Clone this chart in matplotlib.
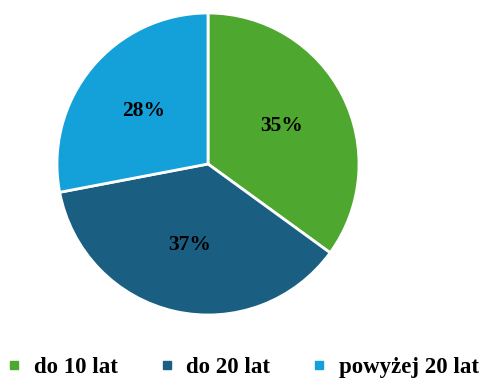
import matplotlib
matplotlib.use('Agg')
from matplotlib import pyplot as plt
from matplotlib.lines import Line2D

labels = ['do 10 lat', 'do 20 lat', 'powyżej 20 lat']
shares = [35, 37, 28]
colors = ['#4EA72E', '#1A5F82', '#14A0D8']

plt.rcParams['font.family'] = 'Liberation Serif'
plt.rcParams['font.weight'] = 'bold'

fig = plt.figure(figsize=(4.79, 3.80), dpi=100)
W, H = 479, 380
cx, cy, r = 208, 164, 151
ax = fig.add_axes([(cx - r) / W, (H - cy - r) / H, 2 * r / W, 2 * r / H])

wedges, texts, autotexts = ax.pie(
	shares, colors=colors, startangle=90, counterclock=False,
	autopct='%d%%', pctdistance=0.55,
	wedgeprops=dict(edgecolor='white', linewidth=2),
	textprops=dict(fontsize=15.5, fontweight='bold', color='black'))
ax.set_xlim(-1, 1)
ax.set_ylim(-1, 1)
ax.set_aspect('equal')

handles = [Line2D([], [], marker='s', linestyle='', markersize=6,
				  markerfacecolor=c, markeredgecolor=c) for c in colors]
fig.legend(handles, labels, loc='center', bbox_to_anchor=(242 / W, 1 - 367 / H),
		   ncol=3, frameon=False, fontsize=16.5, handletextpad=0.44,
		   columnspacing=1.75, handlelength=0.8, borderpad=0)

fig.savefig('out.png', dpi=100)
